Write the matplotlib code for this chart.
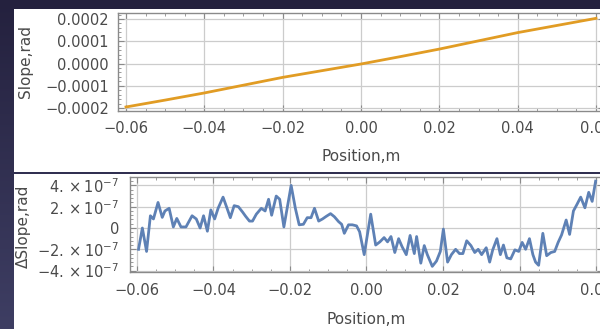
import numpy as np
import matplotlib
matplotlib.use("Agg")
import matplotlib.pyplot as plt
from matplotlib.patches import Rectangle
from matplotlib.ticker import AutoMinorLocator

plt.rcParams["font.family"] = ["DejaVu Sans"]
plt.rcParams["mathtext.fontset"] = "dejavusans"

# ---- data -------------------------------------------------------------
slope_pos = [-0.06, -0.05, -0.04, -0.03, -0.02, -0.01, 0.00,
             0.01, 0.02, 0.03, 0.04, 0.05, 0.06]
slope_rad = [-0.000195, -0.000164, -0.000132, -0.000097, -0.000062, -0.000032,
             -0.000002, 0.000031, 0.000065, 0.000102, 0.000139, 0.000171, 0.000203]

dslope_pos = [
    -0.0596, -0.0586, -0.0575, -0.0565, -0.0557, -0.0545, -0.0534, -0.0527,
    -0.0516, -0.0505, -0.0496, -0.0485, -0.0472, -0.0456, -0.0445, -0.0435,
    -0.0426, -0.0416, -0.0407, -0.0397, -0.0388, -0.0375, -0.0366, -0.0356,
    -0.0346, -0.0335, -0.0324, -0.0316, -0.0306, -0.0298, -0.0288, -0.0275,
    -0.0265, -0.0256, -0.0248, -0.0236, -0.0227, -0.0216, -0.0206, -0.0197,
    -0.0186, -0.0176, -0.0165, -0.0155, -0.0145, -0.0136, -0.0125, -0.0115,
    -0.0105, -0.0094, -0.0084, -0.0073, -0.0065, -0.0058, -0.0047, -0.0037,
    -0.0026, -0.0018, -0.0006, 0.0011, 0.0024, 0.0035, 0.0046, 0.0055,
    0.0064, 0.0074, 0.0084, 0.0093, 0.0104, 0.0114, 0.0125, 0.0131,
    0.0142, 0.0151, 0.0159, 0.0172, 0.0183, 0.0193, 0.0201, 0.0212,
    0.0222, 0.0233, 0.0243, 0.0252, 0.0262, 0.0273, 0.0283, 0.0292,
    0.0301, 0.0313, 0.0322, 0.0330, 0.0341, 0.0350, 0.0358, 0.0367,
    0.0377, 0.0388, 0.0398, 0.0407, 0.0416, 0.0426, 0.0435, 0.0442,
    0.0450, 0.0461, 0.0471, 0.0482, 0.0492, 0.0501, 0.0510, 0.0522,
    0.0531, 0.0541, 0.0550, 0.0560, 0.0571, 0.0581, 0.0590, 0.0599,
]
dslope_e7 = [
    -2.0, 0.0, -2.2, 1.15, 0.85, 2.4, 1.0, 1.6,
    1.85, 0.1, 0.9, 0.1, 0.1, 1.15, 0.85, 0.0,
    1.15, -0.3, 1.7, 0.85, 1.85, 2.9, 2.0, 0.97,
    2.1, 2.0, 1.5, 1.1, 0.65, 0.65, 1.3, 1.85,
    1.6, 2.7, 1.2, 3.0, 2.7, 0.1, 2.15, 4.0,
    1.85, 0.3, 0.35, 0.97, 0.97, 1.85, 0.65, 0.85,
    1.1, 1.35, 1.06, 0.6, 0.35, -0.5, 0.3, 0.3,
    0.2, -0.35, -2.5, 1.3, -1.6, -1.3, -0.9, -1.3,
    -0.8, -2.3, -1.0, -1.75, -2.5, -0.7, -2.4, -0.8,
    -3.3, -1.65, -2.5, -3.6, -3.1, -2.2, -0.1, -3.2,
    -2.5, -2.0, -2.4, -2.4, -1.2, -1.65, -2.3, -2.0,
    -2.5, -1.85, -3.2, -2.05, -1.0, -2.5, -1.6, -2.8,
    -2.9, -2.05, -2.2, -1.35, -2.0, -1.0, -2.5, -3.2,
    -3.5, -0.5, -2.6, -2.3, -2.2, -1.35, -0.65, 0.75,
    -0.6, 1.6, 2.2, 2.9, 1.9, 3.35, 2.5, 4.4,
]

x_ticks = [-0.06, -0.04, -0.02, 0.00, 0.02, 0.04, 0.06]
x_ticklabels = ["\u22120.06", "\u22120.04", "\u22120.02", "0.00", "0.02", "0.04", "0.06"]
top_yticks = [-0.0002, -0.0001, 0.0, 0.0001, 0.0002]
top_yticklabels = ["\u22120.0002", "\u22120.0001", "0.0000", "0.0001", "0.0002"]
bot_yticks = [-4e-7, -2e-7, 0.0, 2e-7, 4e-7]
bot_yticklabels = [r"$-4.\times10^{-7}$", r"$-2.\times10^{-7}$", "0",
                   r"$2.\times10^{-7}$", r"$4.\times10^{-7}$"]

# ---- figure & slide background ---------------------------------------
W, H = 600, 329
fig = plt.figure(figsize=(W / 100, H / 100), dpi=100)

bg = fig.add_axes([0, 0, 1, 1], zorder=-10)
top_c = np.array([0x24, 0x21, 0x3e]) / 255
bot_c = np.array([0x3e, 0x3e, 0x63]) / 255
t = np.linspace(0, 1, 256)[:, None]
grad = (top_c[None, :] * (1 - t) + bot_c[None, :] * t)[:, None, :]
bg.imshow(grad, aspect="auto", extent=[0, 1, 0, 1], origin="upper")
bg.set_axis_off()

def fx(px):
    return px / W

def fy(py):
    return 1 - py / H

fig.add_artist(Rectangle((fx(14), fy(172)), 1 - fx(14), fy(9) - fy(172),
                         transform=fig.transFigure, facecolor="white",
                         edgecolor="none", zorder=-5))
fig.add_artist(Rectangle((fx(14), 0), 1 - fx(14), fy(174),
                         transform=fig.transFigure, facecolor="white",
                         edgecolor="none", zorder=-5))

FRAME = "#8a8a8a"
GRID = "#cccccc"
TXT = "#4a4a4a"

def style(ax, ypad, xpad):
    for s in ax.spines.values():
        s.set_color(FRAME)
        s.set_linewidth(1.0)
    ax.grid(True, which="major", color=GRID, linewidth=0.9)
    ax.set_axisbelow(True)
    ax.xaxis.set_minor_locator(AutoMinorLocator(4))
    ax.yaxis.set_minor_locator(AutoMinorLocator(5))
    ax.tick_params(which="both", direction="in", top=True, right=True,
                   color=FRAME, labelcolor=TXT, labelsize=10.5)
    ax.tick_params(which="major", length=4, width=0.8)
    ax.tick_params(which="minor", length=2, width=0.6)
    ax.tick_params(axis="y", pad=ypad)
    ax.tick_params(axis="x", pad=xpad)

# ---- top panel: slope --------------------------------------------------
ax1 = fig.add_axes([fx(118), fy(111), (604 - 118) / W, (111 - 13) / H])
ax1.plot(slope_pos, slope_rad, color="#E19C24", linewidth=2.0)
ax1.set_xlim(-0.06204, 0.06204)
ax1.set_ylim(-0.000213, 0.000227)
ax1.set_xticks(x_ticks)
ax1.set_xticklabels(x_ticklabels)
ax1.set_yticks(top_yticks)
ax1.set_yticklabels(top_yticklabels)
style(ax1, ypad=6.5, xpad=7)
ax1.set_ylabel("Slope,rad", color=TXT, fontsize=11)
ax1.yaxis.label.set_va("center")
ax1.yaxis.set_label_coords(-0.191, 0.5)
ax1.set_xlabel("Position,m", color=TXT, fontsize=11)
ax1.xaxis.label.set_va("center")
ax1.xaxis.set_label_coords(0.5, -0.46)

# ---- bottom panel: slope residual -------------------------------------
ax2 = fig.add_axes([fx(130), fy(272), (603 - 130) / W, (272 - 177) / H])
ax2.plot(dslope_pos, np.array(dslope_e7) * 1e-7, color="#5E81B5", linewidth=2.0)
ax2.set_xlim(-0.06183, 0.06183)
ax2.set_ylim(-4.13e-7, 4.79e-7)
ax2.set_xticks(x_ticks)
ax2.set_xticklabels(x_ticklabels)
ax2.set_yticks(bot_yticks)
ax2.set_yticklabels(bot_yticklabels)
style(ax2, ypad=8, xpad=8)
ax2.set_ylabel("\u0394Slope,rad", color=TXT, fontsize=11)
ax2.yaxis.label.set_va("center")
ax2.yaxis.set_label_coords(-0.225, 0.48)
ax2.set_xlabel("Position,m", color=TXT, fontsize=11)
ax2.xaxis.label.set_va("center")
ax2.xaxis.set_label_coords(0.5, -0.505)

fig.savefig("out.png", dpi=100)
